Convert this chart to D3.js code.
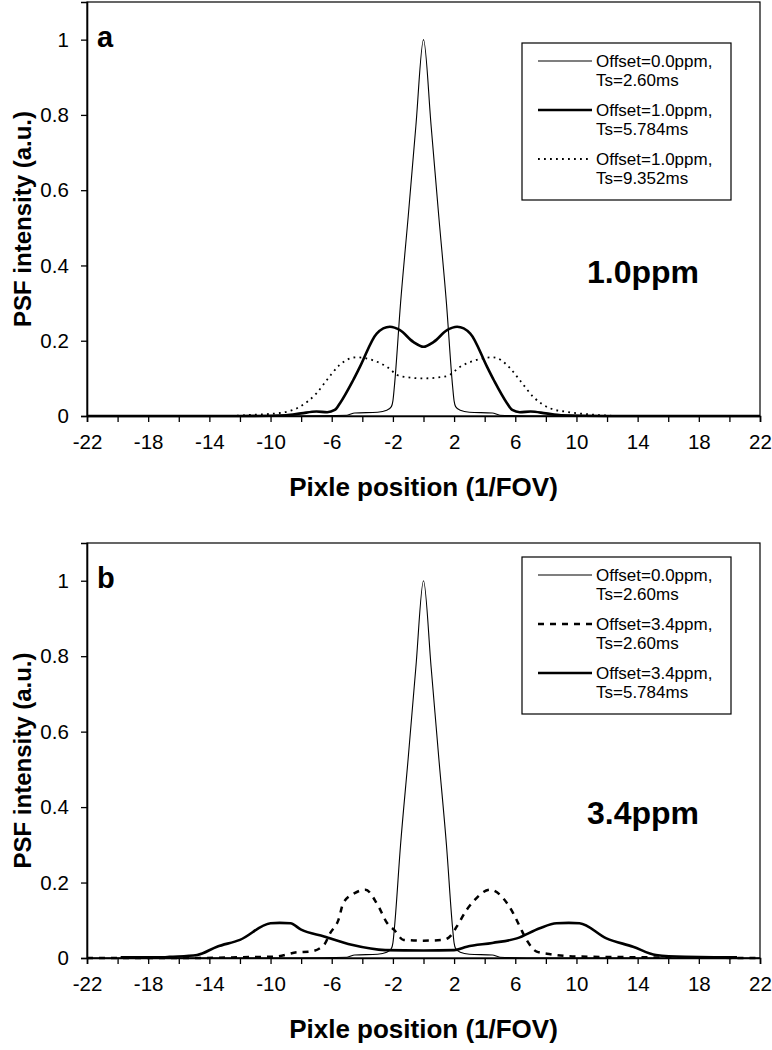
<!DOCTYPE html>
<html><head><meta charset="utf-8">
<script src="https://cdn.jsdelivr.net/npm/d3@7"></script>
<style>body{margin:0;background:#fff}text{font-family:"Liberation Sans",Arial,sans-serif;fill:#000}</style>
</head><body><svg id="c" width="772" height="1050"></svg>
<script>
// ---- data ----
const xTicks = [-22,-18,-14,-10,-6,-2,2,6,10,14,18,22];
const yTicks = [0,0.2,0.4,0.6,0.8,1];
const yTickLabels = ["0","0.2","0.4","0.6","0.8","1"];

// narrow PSF (Offset=0.0ppm, Ts=2.60ms) – same in both panels
const narrowX = [-22,-8,-5,-4.5,-3,-2.4,-2.1,-2.0,-1.9,-1.5,-1.0,-0.5,0,0.5,1.0,1.5,1.9,2.0,2.1,2.4,3,4.5,5,8,22];
const narrowY = [0,0,0.002,0.008,0.01,0.015,0.025,0.04,0.08,0.30,0.53,0.77,1.0,0.77,0.53,0.30,0.08,0.04,0.025,0.015,0.01,0.008,0.002,0,0];

// panel a: Offset=1.0ppm, Ts=5.784ms
const a2X = [-22,-12,-9,-8,-7,-6.3,-5.8,-5.46,-4.6,-4.15,-3.06,-2.2,-1.54,-0.67,0,0.67,1.54,2.2,3.06,4.15,4.6,5.46,5.8,6.3,7,8,9,12,22];
const a2Y = [0,0,0.002,0.007,0.012,0.01,0.016,0.034,0.095,0.131,0.219,0.237,0.228,0.197,0.184,0.197,0.228,0.237,0.219,0.131,0.095,0.034,0.016,0.01,0.012,0.007,0.002,0,0];
// panel a: Offset=1.0ppm, Ts=9.352ms
const a3X = [-22,-13,-11.3,-9.4,-8.07,-7.0,-6.33,-5.5,-4.4,-3.3,-2.4,-1.54,0,1.54,2.4,3.4,4.56,5.66,6.3,7.2,8.3,9.37,11.3,13,22];
const a3Y = [0,0,0.003,0.008,0.025,0.06,0.095,0.135,0.156,0.148,0.131,0.106,0.10,0.106,0.131,0.148,0.156,0.127,0.095,0.05,0.02,0.011,0.003,0,0];

// panel b: Offset=3.4ppm, Ts=2.60ms
const b2X = [-22,-15,-12,-9.6,-8.3,-7.4,-6.5,-6.1,-5.56,-5.24,-4.5,-3.8,-3.0,-2.37,-1.93,-1.3,0,1.3,1.8,2.17,2.83,3.26,4.35,5.2,5.86,6.3,6.74,7.4,8.3,10,14,22];
const b2Y = [0,0,0.002,0.004,0.015,0.017,0.035,0.066,0.101,0.146,0.172,0.181,0.141,0.092,0.075,0.048,0.046,0.048,0.06,0.083,0.128,0.15,0.181,0.159,0.119,0.083,0.048,0.017,0.01,0.004,0.002,0];
// panel b: Offset=3.4ppm, Ts=5.784ms
const b3X = [-19.8,-17,-16.6,-14.8,-13.5,-12.0,-10.0,-9.4,-8.7,-8.0,-6.5,-4.7,-2.5,0,2.0,2.83,4.5,6.1,7.6,8.7,9.5,10.2,11.96,13.7,15.2,17.1,19,20.5];
const b3Y = [0.002,0.002,0.003,0.008,0.03,0.048,0.092,0.093,0.092,0.075,0.057,0.035,0.021,0.02,0.021,0.03,0.04,0.052,0.079,0.092,0.093,0.092,0.052,0.03,0.008,0.003,0.002,0.002];

const legendA = [["Offset=0.0ppm,","Ts=2.60ms"],["Offset=1.0ppm,","Ts=5.784ms"],["Offset=1.0ppm,","Ts=9.352ms"]];
const legendB = [["Offset=0.0ppm,","Ts=2.60ms"],["Offset=3.4ppm,","Ts=2.60ms"],["Offset=3.4ppm,","Ts=5.784ms"]];

// ---- drawing ----
const svg = d3.select("#c");
const L = 87, R = 760;
const styles = {
  thin:{w:1.1,dash:null},
  thick:{w:2.6,dash:null},
  dot:{w:1.8,dash:"1.8,4.2"},
  dash:{w:2.5,dash:"6,6"}
};
function panel(top, bottom, letter, ppm, series, legend, legTop){
  const x = d3.scaleLinear().domain([-22,22]).range([L,R]);
  const y = d3.scaleLinear().domain([0,1.1]).range([bottom,top]);
  const g = svg.append("g");
  g.append("rect").attr("x",L).attr("y",top).attr("width",R-L).attr("height",bottom-top)
    .attr("fill","none").attr("stroke","#000").attr("stroke-width",1.2);
  const xa = d3.axisBottom(x).tickValues(d3.range(-22,23,2)).tickSize(6)
    .tickFormat(d=> xTicks.includes(d)? String(d) : "");
  const gx = g.append("g").attr("transform",`translate(0,${bottom})`).call(xa);
  gx.selectAll("text").attr("font-size",20.5).attr("dy","1.15em").attr("font-family","Liberation Sans, Arial, sans-serif");
  const ya = d3.axisLeft(y).tickValues(yTicks).tickSize(6).tickFormat((d,i)=>yTickLabels[i]);
  const gy = g.append("g").attr("transform",`translate(${L},0)`).call(ya);
  gy.selectAll("text").attr("font-size",20.5).attr("dx","-0.45em").attr("font-family","Liberation Sans, Arial, sans-serif");
  [gx,gy].forEach(a=>{a.select(".domain").attr("stroke-width",1.6);a.selectAll(".tick line").attr("stroke-width",1.3);});
  const line = d3.line().x(d=>x(d[0])).y(d=>y(d[1])).curve(d3.curveMonotoneX);
  series.forEach(s=>{
    const pts = s.xs.map((v,i)=>[v,s.ys[i]]);
    g.append("path").attr("d",line(pts)).attr("fill","none").attr("stroke","#000")
      .attr("stroke-width",styles[s.style].w).attr("stroke-dasharray",styles[s.style].dash)
      .attr("stroke-linejoin","round");
  });
  g.append("text").attr("x",97).attr("y",top+45).attr("font-size",29).attr("font-weight","bold").text(letter);
  g.append("text").attr("x",643).attr("y",top+281).attr("text-anchor","middle").attr("font-size",32).attr("font-weight","bold").text(ppm);
  g.append("text").attr("transform",`translate(31,${(top+bottom)/2+10}) rotate(-90)`).attr("text-anchor","middle")
    .attr("font-size",24).attr("font-weight","bold").text("PSF intensity (a.u.)");
  g.append("text").attr("x",(L+R)/2).attr("y",bottom+80).attr("text-anchor","middle")
    .attr("font-size",26).attr("font-weight","bold").text("Pixle position (1/FOV)");
  // legend
  const lg = g.append("g");
  lg.append("rect").attr("x",522).attr("y",legTop).attr("width",209).attr("height",157)
    .attr("fill","#fff").attr("stroke","#000").attr("stroke-width",1.2);
  legend.forEach((t,i)=>{
    const yy = legTop + 18 + i*49;
    lg.append("line").attr("x1",538).attr("x2",592).attr("y1",yy).attr("y2",yy).attr("stroke","#000")
      .attr("stroke-width",styles[series[i].style].w).attr("stroke-dasharray",styles[series[i].style].dash);
    lg.append("text").attr("x",596).attr("y",yy+6).attr("font-size",17).text(t[0]);
    lg.append("text").attr("x",596).attr("y",yy+25).attr("font-size",17).text(t[1]);
  });
}
panel(2,416,"a","1.0ppm",[
  {xs:narrowX,ys:narrowY,style:"thin"},
  {xs:a2X,ys:a2Y,style:"thick"},
  {xs:a3X,ys:a3Y,style:"dot"}],legendA,43);
panel(543,958,"b","3.4ppm",[
  {xs:narrowX,ys:narrowY,style:"thin"},
  {xs:b2X,ys:b2Y,style:"dash"},
  {xs:b3X,ys:b3Y,style:"thick"}],legendB,557);
</script></body></html>
